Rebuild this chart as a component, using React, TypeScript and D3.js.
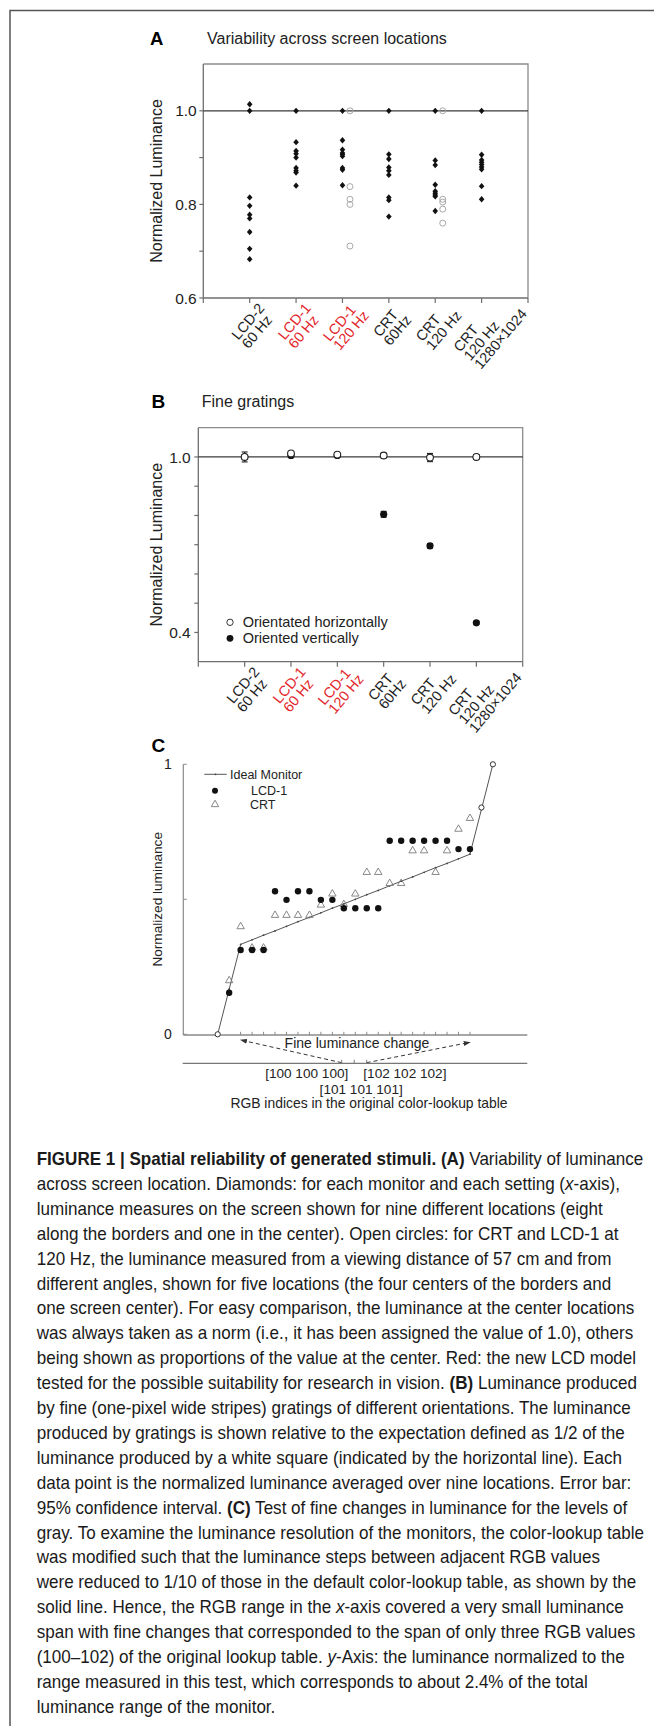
import React from "react";
import * as d3 from "d3";

// ---------- data ----------
const monitorLabels = [
  ["LCD-2", "60 Hz"],
  ["LCD-1", "60 Hz"],
  ["LCD-1", "120 Hz"],
  ["CRT", "60Hz"],
  ["CRT", "120 Hz"],
  ["CRT", "120 Hz", "1280×1024"],
];
const newModel = [false, true, true, false, false, false];

// A: nine screen locations per setting (diamonds)
const locLCD2 = [1.014, 1.0, 0.815, 0.797, 0.778, 0.77, 0.741, 0.705, 0.683];
const locLCD1_60 = [1.0, 0.933, 0.914, 0.908, 0.9, 0.878, 0.872, 0.868, 0.84];
const locLCD1_120 = [1.0, 0.937, 0.917, 0.91, 0.907, 0.903, 0.878, 0.874, 0.841];
const locCRT60 = [1.0, 0.907, 0.897, 0.879, 0.872, 0.863, 0.815, 0.809, 0.774];
const locCRT120 = [1.0, 0.894, 0.884, 0.842, 0.828, 0.824, 0.82, 0.817, 0.786];
const locCRT1280 = [1.0, 0.906, 0.895, 0.89, 0.885, 0.88, 0.875, 0.839, 0.811];
const locations = [locLCD2, locLCD1_60, locLCD1_120, locCRT60, locCRT120, locCRT1280];
// A: viewing angles, open circles (only LCD-1 120 Hz and CRT 120 Hz)
const angleLCD1_120 = [1.0, 0.838, 0.811, 0.8, 0.711];
const angleCRT120 = [1.0, 0.811, 0.805, 0.79, 0.76];

// B: fine gratings
const horizMean = [1.0, 1.012, 1.008, 1.005, 0.998, 1.0];
const horizCI = [0.017, 0.004, 0.003, 0.008, 0.014, 0.008];
const vertMean = [1.0, 1.005, 1.005, 0.804, 0.696, 0.433];
const vertCI = [0.004, 0.003, 0.003, 0.01, 0.008, 0.005];

// C: fine luminance steps
const stepIdx = [0, 1, 2, 3, 4, 5, 6, 7, 8, 9, 10, 11, 12, 13, 14, 15, 16, 17, 18, 19, 20, 21, 22, 23, 24];
const idealLum = [0, 0.167, 0.333, 0.35, 0.367, 0.383, 0.4, 0.417, 0.433, 0.45, 0.467, 0.483, 0.5, 0.517,
  0.533, 0.55, 0.567, 0.583, 0.6, 0.617, 0.633, 0.65, 0.667, 0.833, 1.0];
const measuredIdx = [1, 2, 3, 4, 5, 6, 7, 8, 9, 10, 11, 12, 13, 14, 15, 16, 17, 18, 19, 20, 21, 22];
const lcdLum = [0.154, 0.312, 0.312, 0.312, 0.53, 0.498, 0.53, 0.53, 0.498, 0.498, 0.467, 0.467, 0.467, 0.467,
  0.717, 0.717, 0.717, 0.717, 0.717, 0.717, 0.686, 0.686];
const crtLum = [0.199, 0.399, 0.32, 0.32, 0.441, 0.441, 0.441, 0.441, 0.479, 0.52, 0.481, 0.52, 0.6, 0.6,
  0.559, 0.559, 0.68, 0.68, 0.6, 0.68, 0.76, 0.8];
const anchorIdx = [0, 23, 24];
const anchorLum = [0, 0.84, 1.0];
const rgbValues = [100, 101, 102];
const rgbLabels = ["[100 100 100]", "[101 101 101]", "[102 102 102]"];

type Seg = [string, string];
const caption: Seg[][] = [
  [["FIGURE 1 | Spatial reliability of generated stimuli. (A)", "b"], [" Variability of luminance", ""]],
  [["across screen location. Diamonds: for each monitor and each setting (", ""], ["x", "i"], ["-axis),", ""]],
  [["luminance measures on the screen shown for nine different locations (eight", ""]],
  [["along the borders and one in the center). Open circles: for CRT and LCD-1 at", ""]],
  [["120 Hz, the luminance measured from a viewing distance of 57 cm and from", ""]],
  [["different angles, shown for five locations (the four centers of the borders and", ""]],
  [["one screen center). For easy comparison, the luminance at the center locations", ""]],
  [["was always taken as a norm (i.e., it has been assigned the value of 1.0), others", ""]],
  [["being shown as proportions of the value at the center. Red: the new LCD model", ""]],
  [["tested for the possible suitability for research in vision. ", ""], ["(B)", "b"], [" Luminance produced", ""]],
  [["by fine (one-pixel wide stripes) gratings of different orientations. The luminance", ""]],
  [["produced by gratings is shown relative to the expectation defined as 1/2 of the", ""]],
  [["luminance produced by a white square (indicated by the horizontal line). Each", ""]],
  [["data point is the normalized luminance averaged over nine locations. Error bar:", ""]],
  [["95% confidence interval. ", ""], ["(C)", "b"], [" Test of fine changes in luminance for the levels of", ""]],
  [["gray. To examine the luminance resolution of the monitors, the color-lookup table", ""]],
  [["was modified such that the luminance steps between adjacent RGB values", ""]],
  [["were reduced to 1/10 of those in the default color-lookup table, as shown by the", ""]],
  [["solid line. Hence, the RGB range in the ", ""], ["x", "i"], ["-axis covered a very small luminance", ""]],
  [["span with fine changes that corresponded to the span of only three RGB values", ""]],
  [["(100–102) of the original lookup table. ", ""], ["y", "i"], ["-Axis: the luminance normalized to the", ""]],
  [["range measured in this test, which corresponds to about 2.4% of the total", ""]],
  [["luminance range of the monitor.", ""]],
];

// ---------- helpers ----------
const SANS = "'Liberation Sans', Arial, Helvetica, sans-serif";
const AXIS = "#6e6e6e";
const RED = "#e3262b";

let ctx: CanvasRenderingContext2D | null = null;
function measure(str: string, size: number, weight = "normal", style = "normal") {
  if (!ctx) ctx = document.createElement("canvas").getContext("2d");
  ctx!.font = `${style} ${weight} ${size}px ${SANS}`;
  return ctx!.measureText(str).width;
}

const rhombus = {
  draw(c: any, size: number) {
    const h = Math.sqrt(size) * 0.6;
    const w = h * 0.88;
    c.moveTo(0, -h);
    c.lineTo(w, 0);
    c.lineTo(0, h);
    c.lineTo(-w, 0);
    c.closePath();
  },
};

function CatLabel({ x, y, lines, color }: { x: number; y: number; lines: string[]; color: string }) {
  const fs = 14.5;
  const lh = 13.5;
  const w = d3.max(lines, (l) => measure(l, fs)) || 0;
  return (
    <text transform={`translate(${x},${y}) rotate(-50)`} fontSize={fs} fill={color}>
      {lines.map((l, i) => (
        <tspan key={i} x={-w / 2} y={10.5 + i * lh}>
          {l}
        </tspan>
      ))}
    </text>
  );
}

function Frame({ x, y, yTicks, yLabels, labelRight }: any) {
  const [x0, x1] = x.range();
  const [y0, y1] = y.range();
  return (
    <g>
      <path d={`M${x0},${y1}H${x1}V${y0}`} fill="none" stroke="#8c8c8c" strokeWidth={1.3} />
      <line x1={x0} x2={x0} y1={y1} y2={y0} stroke={AXIS} strokeWidth={1.3} />
      <line x1={x0} x2={x1} y1={y0} y2={y0} stroke={AXIS} strokeWidth={1.3} />
      <line x1={x0} x2={x1} y1={y(1)} y2={y(1)} stroke="#3a3a3a" strokeWidth={1.3} />
      {yTicks.map((t: number) => (
        <line key={t} x1={x0 - 4} x2={x0} y1={y(t)} y2={y(t)} stroke={AXIS} strokeWidth={1.2} />
      ))}
      {yLabels.map((t: number) => (
        <text key={t} x={labelRight} y={y(t)} dy="0.36em" textAnchor="end" fontSize={15.5} fill="#222">
          {d3.format(".1f")(t)}
        </text>
      ))}
      {d3.range(8).map((i) => (
        <line key={i} x1={x(i)} x2={x(i)} y1={y0} y2={y0 + 5} stroke={AXIS} strokeWidth={1.2} />
      ))}
      {monitorLabels.map((lines, i) => (
        <CatLabel key={i} x={x(i + 1) - 6} y={y0 + 20} lines={lines} color={newModel[i] ? RED : "#1e1e1e"} />
      ))}
    </g>
  );
}

function PanelA() {
  const x = d3.scaleLinear().domain([0, 7]).range([203.3, 528]);
  const y = d3.scaleLinear().domain([0.6, 1.1]).range([298, 64]);
  const dia = d3.symbol().type(rhombus as any).size(28)() || "";
  return (
    <g>
      <text x={150} y={44.5} fontWeight="bold" fontSize={18.5}>A</text>
      <text x={207} y={44} fontSize={16} fill="#222">Variability across screen locations</text>
      <text transform={`translate(161.5,${(y(1.1) + y(0.6)) / 2}) rotate(-90)`} textAnchor="middle" fontSize={16} fill="#222">
        Normalized Luminance
      </text>
      <Frame x={x} y={y} yTicks={[0.6, 0.7, 0.8, 0.9, 1.0]} yLabels={[0.6, 0.8, 1.0]} labelRight={196.7} />
      {locations.map((vals, i) =>
        vals.map((v, j) => <path key={`${i}-${j}`} d={dia} transform={`translate(${x(i + 1)},${y(v)})`} fill="#111" />)
      )}
      {[
        [2, angleLCD1_120],
        [4, angleCRT120],
      ].map(([i, vals]: any) =>
        vals.map((v: number, j: number) => (
          <circle key={`${i}-${j}`} cx={x(i + 1) + 7.5} cy={y(v)} r={3} fill="none" stroke="#a9a9a9" strokeWidth={1} />
        ))
      )}
    </g>
  );
}

function PanelB() {
  const x = d3.scaleLinear().domain([0, 7]).range([198.3, 522.7]);
  const y = d3.scaleLinear().domain([0.3, 1.1]).range([661.7, 427.7]);
  const err = (cx: number, m: number, ci: number, key: string) => (
    <g key={key} stroke="#222" strokeWidth={1.1}>
      <line x1={cx} x2={cx} y1={y(m - ci)} y2={y(m + ci)} />
      <line x1={cx - 3} x2={cx + 3} y1={y(m - ci)} y2={y(m - ci)} />
      <line x1={cx - 3} x2={cx + 3} y1={y(m + ci)} y2={y(m + ci)} />
    </g>
  );
  return (
    <g>
      <text x={151.5} y={408} fontWeight="bold" fontSize={19}>B</text>
      <text x={201.7} y={407} fontSize={16} fill="#222">Fine gratings</text>
      <text transform={`translate(162,${(y(1.1) + y(0.3)) / 2}) rotate(-90)`} textAnchor="middle" fontSize={16} fill="#222">
        Normalized Luminance
      </text>
      <Frame x={x} y={y} yTicks={[0.4, 0.5, 0.6, 0.7, 0.8, 0.9, 1.0]} yLabels={[0.4, 1.0]} labelRight={190.7} />
      {vertMean.map((m, i) => err(x(i + 1), m, vertCI[i], `ve${i}`))}
      {vertMean.map((m, i) => (
        <circle key={`v${i}`} cx={x(i + 1)} cy={y(m)} r={3.6} fill="#111" />
      ))}
      {horizMean.map((m, i) => err(x(i + 1), m, horizCI[i], `he${i}`))}
      {horizMean.map((m, i) => (
        <circle key={`h${i}`} cx={x(i + 1)} cy={y(m)} r={3.4} fill="#fff" stroke="#222" strokeWidth={1.1} />
      ))}
      <circle cx={230} cy={622.3} r={3.2} fill="#fff" stroke="#333" strokeWidth={1} />
      <text x={242.7} y={627.3} fontSize={14.5} fill="#222">Orientated horizontally</text>
      <circle cx={230} cy={638.3} r={3.4} fill="#111" />
      <text x={242.7} y={643.3} fontSize={14.5} fill="#222">Oriented vertically</text>
    </g>
  );
}

function PanelC() {
  const x = d3.scaleLinear().domain([-3, 27]).range([183.3, 527.3]);
  const y = d3.scaleLinear().domain([0, 1]).range([1034.3, 764.3]);
  const rgb = d3.scaleLinear().domain([100, 102]).range([341.7, 366.7]);
  const line = d3.line<number>().x((_, i) => x(stepIdx[i])).y((d) => y(d));
  const tri = d3.symbol().type(d3.symbolTriangle).size(24)() || "";
  const baseY = 1063.3;
  return (
    <g>
      <defs>
        <marker id="arr" viewBox="0 0 10 10" refX="9" refY="5" markerWidth="7" markerHeight="7" orient="auto">
          <path d="M0,1.5L10,5L0,8.5z" fill="#333" />
        </marker>
      </defs>
      <text x={151.5} y={752} fontWeight="bold" fontSize={19}>C</text>
      <text transform={`translate(161.5,${(y(0) + y(1)) / 2}) rotate(-90)`} textAnchor="middle" fontSize={13.6} fill="#222">
        Normalized luminance
      </text>
      {/* axes */}
      <line x1={x(-3)} x2={x(-3)} y1={y(1)} y2={y(0) + 0.7} stroke="#8a8a8a" strokeWidth={1.2} />
      <line x1={x(-3)} x2={x(27)} y1={y(0) + 0.7} y2={y(0) + 0.7} stroke="#8a8a8a" strokeWidth={1.3} />
      {[0, 0.5, 1].map((t) => (
        <line key={t} x1={x(-3)} x2={x(-3) + 3.5} y1={y(t)} y2={y(t)} stroke="#8a8a8a" strokeWidth={1} />
      ))}
      <text x={171.7} y={y(1)} dy="0.36em" textAnchor="end" fontSize={14} fill="#222">1</text>
      <text x={171.7} y={y(0)} dy="0.36em" textAnchor="end" fontSize={14} fill="#222">0</text>
      {stepIdx.slice(2, 23).map((i) => (
        <line key={i} x1={x(i)} x2={x(i)} y1={y(0) + 0.7} y2={y(0) - 2.5} stroke="#8a8a8a" strokeWidth={1} />
      ))}
      {/* ideal monitor */}
      <path d={line(idealLum) || ""} fill="none" stroke="#555" strokeWidth={1} />
      {idealLum.map((v, i) => (
        <circle key={i} cx={x(stepIdx[i])} cy={y(v)} r={0.9} fill="#444" />
      ))}
      {crtLum.map((v, i) => (
        <path key={`c${i}`} d={tri} transform={`translate(${x(measuredIdx[i])},${y(v)})`} fill="none" stroke="#7a7a7a" strokeWidth={0.9} />
      ))}
      {lcdLum.map((v, i) => (
        <circle key={`l${i}`} cx={x(measuredIdx[i])} cy={y(v)} r={3.2} fill="#111" />
      ))}
      {anchorLum.map((v, i) => (
        <circle key={`a${i}`} cx={x(anchorIdx[i])} cy={y(v)} r={2.6} fill="#fff" stroke="#333" strokeWidth={1} />
      ))}
      {/* legend */}
      <line x1={204.3} x2={226.7} y1={774.3} y2={774.3} stroke="#555" strokeWidth={1} />
      <circle cx={215.5} cy={774.3} r={0.9} fill="#444" />
      <text x={230} y={778.8} fontSize={12.5} fill="#222">Ideal Monitor</text>
      <circle cx={215} cy={790.7} r={3} fill="#111" />
      <text x={251} y={795.2} fontSize={12.5} fill="#222">LCD-1</text>
      <path d={tri} transform="translate(215,804.5)" fill="none" stroke="#7a7a7a" strokeWidth={0.9} />
      <text x={250} y={809} fontSize={12.5} fill="#222">CRT</text>
      {/* fine change annotation */}
      <text x={357} y={1047.5} textAnchor="middle" fontSize={14} fill="#222">Fine luminance change</text>
      <line x1={rgb(100)} y1={baseY - 0.6} x2={x(2)} y2={1040} stroke="#333" strokeWidth={1} strokeDasharray="4 3" markerEnd="url(#arr)" />
      <line x1={rgb(102)} y1={baseY - 0.6} x2={x(22)} y2={1042.3} stroke="#333" strokeWidth={1} strokeDasharray="4 3" markerEnd="url(#arr)" />
      <line x1={x(-3) - 0.6} x2={x(27)} y1={baseY} y2={baseY} stroke="#777" strokeWidth={1.2} />
      {rgbValues.map((v) => (
        <line key={v} x1={rgb(v)} x2={rgb(v)} y1={baseY} y2={baseY - 3.5} stroke="#777" strokeWidth={1} />
      ))}
      <text x={rgb(100) + 6.6} y={1078} textAnchor="end" fontSize={13.6} fill="#222">{rgbLabels[0]}</text>
      <text x={rgb(102) - 3.4} y={1078} fontSize={13.6} fill="#222">{rgbLabels[2]}</text>
      <text x={rgb(101) + 7} y={1093.5} textAnchor="middle" fontSize={13.6} fill="#222">{rgbLabels[1]}</text>
      <text x={369} y={1108} textAnchor="middle" fontSize={13.9} fill="#222">RGB indices in the original color-lookup table</text>
    </g>
  );
}

function Caption() {
  const fs = 18;
  const natural = caption[0].reduce((s, [t, st]) => s + measure(t, fs, st === "b" ? "bold" : "normal"), 0);
  const sx = 607 / natural;
  return (
    <g fill="#1a1a1a">
      {caption.map((segs, i) => (
        <text key={i} transform={`translate(36.7,${1165 + i * 24.9}) scale(${sx},1)`} fontSize={fs}>
          {segs.map(([t, st], j) => (
            <tspan key={j} fontWeight={st === "b" ? "bold" : "normal"} fontStyle={st === "i" ? "italic" : "normal"}>
              {t}
            </tspan>
          ))}
        </text>
      ))}
    </g>
  );
}

export default function App() {
  return (
    <svg
      width={654}
      height={1731}
      viewBox="0 0 654 1731"
      style={{ position: "absolute", left: 0, top: 0, background: "#fff", fontFamily: SANS }}
    >
      <rect width={654} height={1731} fill="#fff" />
      <path d="M654,10.5H10V1726" fill="none" stroke="#555" strokeWidth={1.5} />
      <PanelA />
      <PanelB />
      <PanelC />
      <Caption />
    </svg>
  );
}
